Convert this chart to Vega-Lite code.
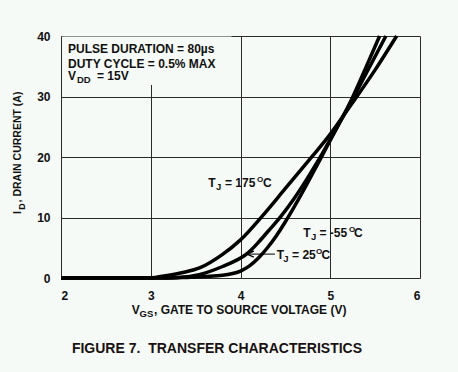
{
  "$schema": "https://vega.github.io/schema/vega-lite/v6.json",
  "width": 359,
  "height": 242,
  "autosize": {"type": "none"},
  "padding": {"left": 61, "top": 36, "right": 38, "bottom": 94},
  "background": "#f5faf6",
  "config": {
    "view": {"stroke": null},
    "font": "Liberation Sans",
    "axis": {
      "gridColor": "#2a2a2a", "gridWidth": 1, "gridOpacity": 1,
      "domain": false, "ticks": false,
      "labelFont": "Liberation Sans", "labelFontWeight": "bold", "labelFontSize": 12, "labelColor": "#111"
    }
  },
  "layer": [
    {
      "data": {"values": [{"a": 2.015, "b": 3.9, "c": 31.9, "d": 39.9}]},
      "mark": {"type": "rect", "fill": "#f5faf6", "stroke": null},
      "encoding": {
        "x": {"field": "a", "type": "quantitative", "scale": {"domain": [2, 6], "nice": false},
              "axis": {"values": [2, 3, 4, 5, 6], "format": "d", "title": null, "labelPadding": 12, "grid": true}},
        "x2": {"field": "b"},
        "y": {"field": "c", "type": "quantitative", "scale": {"domain": [0, 40], "nice": false},
              "axis": {"values": [0, 10, 20, 30, 40], "format": "d", "title": null, "labelPadding": 11, "grid": true}},
        "y2": {"field": "d"}
      }
    },
    {
      "data": {"values": [
        {"s": "175", "v": 2.0, "i": 0}, {"s": "175", "v": 2.9, "i": 0}, {"s": "175", "v": 3.05, "i": 0.1},
        {"s": "175", "v": 3.18, "i": 0.4}, {"s": "175", "v": 3.36, "i": 0.9}, {"s": "175", "v": 3.55, "i": 1.7},
        {"s": "175", "v": 3.8, "i": 3.9}, {"s": "175", "v": 4.0, "i": 6.3}, {"s": "175", "v": 4.24, "i": 10.2},
        {"s": "175", "v": 4.5, "i": 14.8}, {"s": "175", "v": 4.81, "i": 20.3}, {"s": "175", "v": 4.97, "i": 23.2},
        {"s": "175", "v": 5.24, "i": 28.8}, {"s": "175", "v": 5.5, "i": 34.4}, {"s": "175", "v": 5.74, "i": 40},
        {"s": "25", "v": 2.0, "i": 0}, {"s": "25", "v": 3.05, "i": 0}, {"s": "25", "v": 3.3, "i": 0.1},
        {"s": "25", "v": 3.55, "i": 0.6}, {"s": "25", "v": 3.8, "i": 1.9}, {"s": "25", "v": 4.0, "i": 3.3},
        {"s": "25", "v": 4.07, "i": 4.0}, {"s": "25", "v": 4.2, "i": 5.9}, {"s": "25", "v": 4.3, "i": 7.6},
        {"s": "25", "v": 4.45, "i": 10.2}, {"s": "25", "v": 4.6, "i": 13.2}, {"s": "25", "v": 4.75, "i": 16.6},
        {"s": "25", "v": 4.89, "i": 20.0}, {"s": "25", "v": 5.05, "i": 24.2}, {"s": "25", "v": 5.24, "i": 29.3},
        {"s": "25", "v": 5.4, "i": 33.8}, {"s": "25", "v": 5.62, "i": 40},
        {"s": "-55", "v": 2.0, "i": 0}, {"s": "-55", "v": 3.2, "i": 0}, {"s": "-55", "v": 3.4, "i": 0.1},
        {"s": "-55", "v": 3.6, "i": 0.25}, {"s": "-55", "v": 3.8, "i": 0.45}, {"s": "-55", "v": 3.9, "i": 0.7},
        {"s": "-55", "v": 4.0, "i": 1.15}, {"s": "-55", "v": 4.1, "i": 2.0}, {"s": "-55", "v": 4.2, "i": 3.3},
        {"s": "-55", "v": 4.3, "i": 5.0}, {"s": "-55", "v": 4.4, "i": 7.0}, {"s": "-55", "v": 4.5, "i": 9.3},
        {"s": "-55", "v": 4.6, "i": 11.8}, {"s": "-55", "v": 4.75, "i": 15.8}, {"s": "-55", "v": 4.92, "i": 20.5},
        {"s": "-55", "v": 5.08, "i": 25.0}, {"s": "-55", "v": 5.24, "i": 29.6}, {"s": "-55", "v": 5.4, "i": 34.9},
        {"s": "-55", "v": 5.55, "i": 40}
      ]},
      "mark": {"type": "line", "color": "#000", "strokeWidth": 3.5, "interpolate": "monotone"},
      "encoding": {
        "x": {"field": "v", "type": "quantitative"},
        "y": {"field": "i", "type": "quantitative"},
        "detail": {"field": "s", "type": "nominal"}
      }
    },
    {
      "data": {"values": [{"v": 4.072, "i": 3.95}, {"v": 4.384, "i": 3.95}]},
      "mark": {"type": "line", "color": "#000", "strokeWidth": 1},
      "encoding": {"x": {"field": "v", "type": "quantitative"}, "y": {"field": "i", "type": "quantitative"}}
    },
    {
      "data": {"values": [{"v": 4.072, "i": 3.95}]},
      "mark": {"type": "point", "shape": "M 0 0 L 2.3 -1 M 0 0 L 2.3 1", "filled": false, "stroke": "#000", "strokeWidth": 1.3, "size": 36, "opacity": 1},
      "encoding": {"x": {"field": "v", "type": "quantitative"}, "y": {"field": "i", "type": "quantitative"}}
    },
    {
      "data": {"values": [
        {"t": "T", "v": 3.641, "i": 15.04}, {"t": "= 175", "v": 3.827, "i": 15.04}, {"t": "C", "v": 4.25, "i": 15.04},
        {"t": "T", "v": 4.700, "i": 6.83}, {"t": "= -55", "v": 4.88, "i": 6.83}, {"t": "C", "v": 5.266, "i": 6.83},
        {"t": "T", "v": 4.403, "i": 3.09}, {"t": "= 25", "v": 4.575, "i": 3.09}, {"t": "C", "v": 4.903, "i": 3.09},
        {"t": "PULSE DURATION = 80µs", "v": 2.078, "i": 37.19},
        {"t": "DUTY CYCLE = 0.5% MAX", "v": 2.078, "i": 34.71},
        {"t": "V", "v": 2.078, "i": 32.73}, {"t": "= 15V", "v": 2.401, "i": 32.73},
        {"t": "V", "v": 2.788, "i": -6.0}, {"t": ", GATE TO SOURCE VOLTAGE (V)", "v": 3.036, "i": -6.0}
      ]},
      "mark": {"type": "text", "align": "left", "baseline": "alphabetic", "fontSize": 12, "fontWeight": "bold", "color": "#111"},
      "encoding": {"x": {"field": "v", "type": "quantitative"}, "y": {"field": "i", "type": "quantitative"}, "text": {"field": "t"}}
    },
    {
      "data": {"values": [
        {"t": "J", "v": 3.727, "i": 15.04}, {"t": "J", "v": 4.786, "i": 6.83}, {"t": "J", "v": 4.477, "i": 3.09},
        {"t": "DD", "v": 2.178, "i": 32.73}, {"t": "GS", "v": 2.875, "i": -6.0}
      ]},
      "mark": {"type": "text", "align": "left", "baseline": "alphabetic", "fontSize": 9.5, "fontWeight": "bold", "dy": 3, "color": "#111"},
      "encoding": {"x": {"field": "v", "type": "quantitative"}, "y": {"field": "i", "type": "quantitative"}, "text": {"field": "t"}}
    },
    {
      "data": {"values": [
        {"t": "O", "v": 4.185, "i": 15.04}, {"t": "O", "v": 5.21, "i": 6.83}, {"t": "O", "v": 4.841, "i": 3.09}
      ]},
      "mark": {"type": "text", "align": "left", "baseline": "alphabetic", "fontSize": 8, "fontWeight": "bold", "dy": -5, "color": "#111"},
      "encoding": {"x": {"field": "v", "type": "quantitative"}, "y": {"field": "i", "type": "quantitative"}, "text": {"field": "t"}}
    },
    {
      "data": {"values": [{"t": "I", "v": 1.551, "i": 10.58}, {"t": ", DRAIN CURRENT (A)", "v": 1.551, "i": 12.5}]},
      "mark": {"type": "text", "align": "left", "baseline": "alphabetic", "angle": 270, "fontSize": 10.5, "fontWeight": "bold", "color": "#111"},
      "encoding": {"x": {"field": "v", "type": "quantitative"}, "y": {"field": "i", "type": "quantitative"}, "text": {"field": "t"}}
    },
    {
      "data": {"values": [{"t": "D", "v": 1.551, "i": 11.3}]},
      "mark": {"type": "text", "align": "left", "baseline": "alphabetic", "angle": 270, "fontSize": 9, "fontWeight": "bold", "dy": 4, "color": "#111"},
      "encoding": {"x": {"field": "v", "type": "quantitative"}, "y": {"field": "i", "type": "quantitative"}, "text": {"field": "t"}}
    },
    {
      "data": {"values": [{"t": "FIGURE 7.\u00a0 TRANSFER CHARACTERISTICS", "v": 3.738, "i": -12.45}]},
      "mark": {"type": "text", "align": "center", "baseline": "alphabetic", "fontSize": 14, "fontWeight": "bold", "color": "#1a1212"},
      "encoding": {"x": {"field": "v", "type": "quantitative"}, "y": {"field": "i", "type": "quantitative"}, "text": {"field": "t"}}
    }
  ]
}
